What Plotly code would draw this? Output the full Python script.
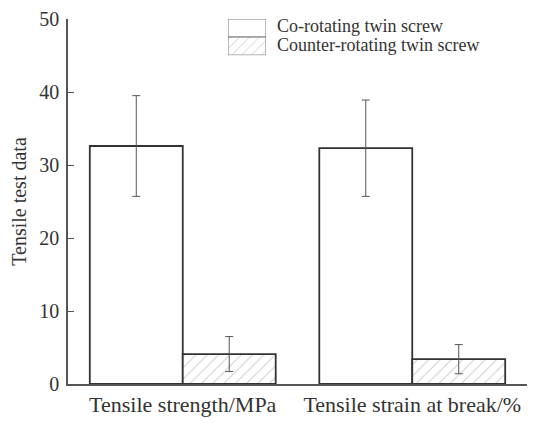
import plotly.graph_objects as go

categories = ["Tensile strength/MPa", "Tensile strain at break/%"]
series_names = ["Co-rotating twin screw", "Counter-rotating twin screw"]
co_values = [32.6, 32.3]
co_errors = [6.9, 6.6]
counter_values = [4.1, 3.4]
counter_errors = [2.4, 2.0]
y_ticks = [0, 10, 20, 30, 40, 50]

FONT = "Liberation Serif, Times New Roman, serif"
LINE = "#333333"
AX = "#555555"

fig = go.Figure()

fig.add_trace(go.Bar(
    x=categories, y=co_values, name=series_names[0],
    marker=dict(color="white", line=dict(color=LINE, width=1.8)),
    error_y=dict(type="data", array=co_errors, color="#555555", thickness=1, width=4),
    showlegend=False,
))
fig.add_trace(go.Bar(
    x=categories, y=counter_values, name=series_names[1],
    marker=dict(color="white", line=dict(color=LINE, width=1.8),
                pattern=dict(shape="/", fgcolor="#999999", bgcolor="white", size=8, solidity=0.12)),
    error_y=dict(type="data", array=counter_errors, color="#555555", thickness=1, width=4),
    showlegend=False,
))

# legend swatches drawn as bars on a small auxiliary axis
fig.add_trace(go.Bar(
    x=[1], y=[1], orientation="h", width=[1], xaxis="x2", yaxis="y2",
    marker=dict(color="white", line=dict(color="#777777", width=1)),
    showlegend=False, hoverinfo="skip",
))
fig.add_trace(go.Bar(
    x=[1], y=[0], orientation="h", width=[1], xaxis="x2", yaxis="y2",
    marker=dict(color="white", line=dict(color="#777777", width=1),
                pattern=dict(shape="/", fgcolor="#999999", bgcolor="white", size=7, solidity=0.12)),
    showlegend=False, hoverinfo="skip",
))

annotations = []
for i, nm in enumerate(series_names):
    annotations.append(dict(
        text=nm, xref="paper", yref="paper", x=0.451, y=[0.981, 0.929][i],
        xanchor="left", yanchor="middle", showarrow=False,
        font=dict(family=FONT, size=18, color="#333333"),
    ))

fig.update_layout(
    width=550, height=423,
    margin=dict(l=60, r=31, t=11, b=47),
    paper_bgcolor="white", plot_bgcolor="white",
    barmode="group", bargap=0.19, bargroupgap=0,
    font=dict(family=FONT, color="#333333"),
    annotations=annotations,
    xaxis=dict(
        showline=True, linecolor=AX, linewidth=1.5, ticks="", automargin=False,
        tickfont=dict(family=FONT, size=22, color="#333333"),
        showgrid=False, zeroline=False,
    ),
    yaxis=dict(
        range=[0, 50], tickvals=y_ticks, showline=True, linecolor=AX, linewidth=1.5,
        ticks="inside", ticklen=6, tickcolor=AX, tickwidth=1.2, automargin=False,
        ticklabelstandoff=3, ticklabeloverflow="allow",
        tickfont=dict(family=FONT, size=20, color="#333333"),
        showgrid=False, zeroline=False,
        title=dict(text="Tensile test data", font=dict(family=FONT, size=20, color="#333333"), standoff=24),
    ),
    xaxis2=dict(domain=[0.3486, 0.4314], range=[0, 1], anchor="y2", visible=False, fixedrange=True),
    yaxis2=dict(domain=[0.901, 1.0], range=[-0.5, 1.5], anchor="x2", visible=False, fixedrange=True),
)

fig.write_html("out.html")
